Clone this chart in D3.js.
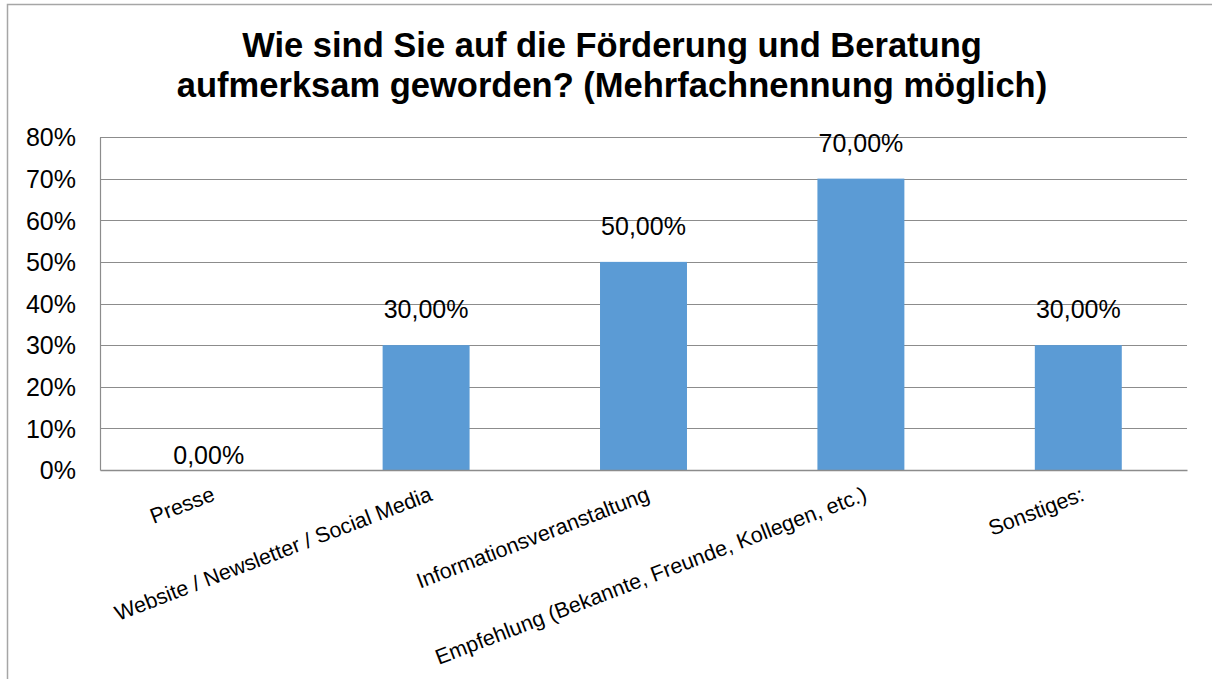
<!DOCTYPE html>
<html>
<head>
<meta charset="utf-8">
<script src="https://cdn.jsdelivr.net/npm/d3@7/dist/d3.min.js"></script>
<style>
  html, body { margin: 0; padding: 0; background: #fff; }
  svg text { font-family: "Liberation Sans", Arial, sans-serif; fill: #000; }
</style>
</head>
<body>
<div id="chart"></div>
<script>
// Daten
const titleLines = ['Wie sind Sie auf die Förderung und Beratung', 'aufmerksam geworden? (Mehrfachnennung möglich)'];
const categories = ['Presse', 'Website / Newsletter / Social Media', 'Informationsveranstaltung', 'Empfehlung (Bekannte, Freunde, Kollegen, etc.)', 'Sonstiges:'];
const values = [0, 0.30, 0.50, 0.70, 0.30];
const yTicks = [0, 0.1, 0.2, 0.3, 0.4, 0.5, 0.6, 0.7, 0.8];

const width = 1212, height = 679;
const margin = { top: 137, right: 25, bottom: 209, left: 100 };
const w = width - margin.left - margin.right;
const h = height - margin.top - margin.bottom;

const svg = d3.select('#chart').append('svg')
    .attr('width', width).attr('height', height);

// Rahmen
svg.append('rect')
    .attr('x', 7.5).attr('y', 4.5).attr('width', 1300).attr('height', 800)
    .attr('fill', 'none').attr('stroke', '#a6a6a6').attr('stroke-width', 1.5);

// Titel
svg.append('text')
    .attr('x', 612).attr('y', 57)
    .attr('text-anchor', 'middle')
    .style('font-size', '34.5px').style('font-weight', 'bold')
    .selectAll('tspan').data(titleLines).enter().append('tspan')
    .attr('x', 612).attr('dy', (_, i) => i === 0 ? 0 : 39.5)
    .text(d => d);

const g = svg.append('g').attr('transform', `translate(${margin.left},${margin.top})`);

const x = d3.scaleBand().domain(categories).range([0, w]).paddingInner(0.6).paddingOuter(0.3);
const y = d3.scaleLinear().domain([0, 0.8]).range([h, 0]);
const fmtTick = d3.format('.0%');
const fmtVal = v => (v * 100).toFixed(2).replace('.', ',') + '%';

// Gitternetz
g.append('g').selectAll('line').data(yTicks.slice(1)).enter().append('line')
    .attr('x1', 0).attr('x2', w)
    .attr('y1', d => Math.round(y(d)) + 0.5).attr('y2', d => Math.round(y(d)) + 0.5)
    .attr('stroke', '#8c8c8c').attr('stroke-width', 1.2);

// y-Achse
const yAxis = g.append('g').call(d3.axisLeft(y).tickValues(yTicks).tickFormat(fmtTick).tickSize(0).tickPadding(24));
yAxis.select('.domain').attr('stroke', '#8c8c8c').attr('stroke-width', 1.2);
yAxis.selectAll('text').style('font-size', '25px').attr('dy', '0.35em');

// Balken
g.selectAll('rect.bar').data(values).enter().append('rect')
    .attr('class', 'bar')
    .attr('x', (d, i) => x(categories[i]))
    .attr('y', d => y(d))
    .attr('width', x.bandwidth())
    .attr('height', d => h - y(d))
    .attr('fill', '#5b9bd5');

// x-Achse
const xAxis = g.append('g').attr('transform', `translate(0,${h})`)
    .call(d3.axisBottom(x).tickSize(0).tickPadding(0));
xAxis.select('.domain').attr('stroke', '#8c8c8c').attr('stroke-width', 1.5);
xAxis.selectAll('.tick text')
    .style('font-size', '21.5px')
    .attr('text-anchor', 'end')
    .attr('y', 0).attr('x', 0).attr('dy', 0)
    .attr('transform', 'translate(2,16) rotate(-21) translate(0,15)');

// Datenbeschriftungen
g.selectAll('text.val').data(values).enter().append('text')
    .attr('class', 'val')
    .attr('x', (d, i) => x(categories[i]) + x.bandwidth() / 2)
    .attr('y', d => y(d) - (d > 0 ? 27 : 6))
    .attr('text-anchor', 'middle')
    .style('font-size', '25px')
    .text(fmtVal);
</script>
</body>
</html>
